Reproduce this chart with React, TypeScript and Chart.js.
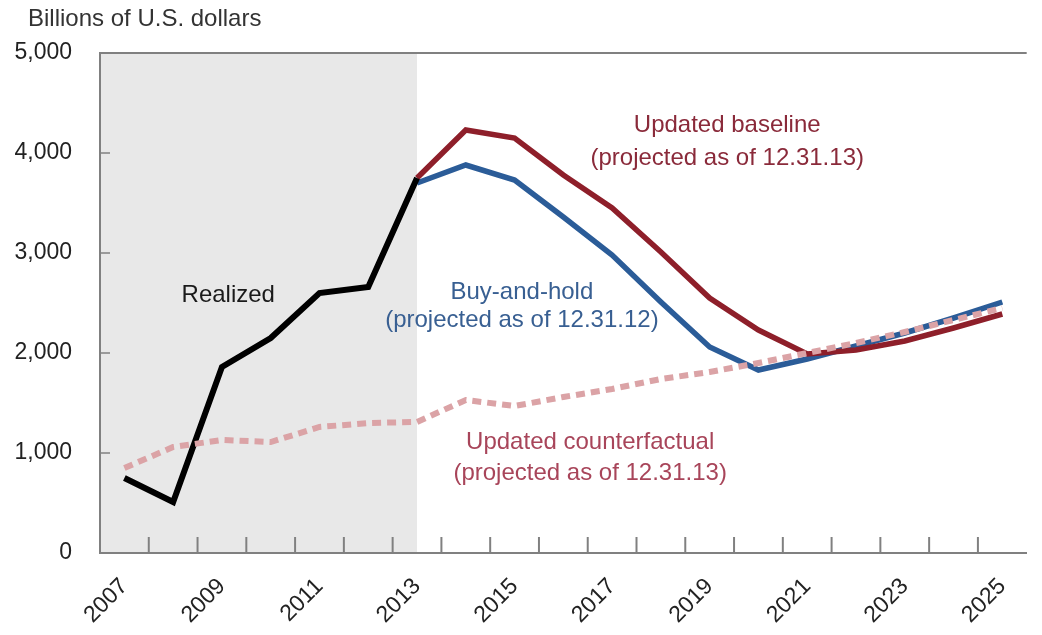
import React, { useEffect, useRef } from "react";
import { Chart, registerables } from "chart.js";

Chart.register(...registerables);

const years = [
  "2007", "2008", "2009", "2010", "2011", "2012", "2013", "2014", "2015", "2016",
  "2017", "2018", "2019", "2020", "2021", "2022", "2023", "2024", "2025",
];

const realized = [750, 510, 1860, 2150, 2600, 2660, 3750, null, null, null, null, null, null, null, null, null, null, null, null];

const updatedBaseline = [null, null, null, null, null, null, 3750, 4230, 4150, 3780, 3450, 3010, 2550, 2230, 1990, 2030, 2120, 2250, 2390];

const buyAndHold = [null, null, null, null, null, null, 3700, 3880, 3730, 3360, 2980, 2510, 2060, 1830, 1940, 2070, 2200, 2350, 2510];

const updatedCounterfactual = [850, 1060, 1130, 1110, 1260, 1300, 1310, 1530, 1470, 1560, 1640, 1740, 1810, 1900, 2000, 2100, 2210, 2330, 2450];

const yTicks = [0, 1000, 2000, 3000, 4000, 5000];

const shadedUntilIndex = 6; // realized period ends in 2013

const FONT = "'Liberation Sans', Arial, sans-serif";

type Note = { text: string; x: number; y: number; color: string };
const notes: Note[] = [
  { text: "Realized", x: 2.13, y: 2580, color: "#1a1a1a" },
  { text: "Updated baseline", x: 12.36, y: 4280, color: "#8a2a3a" },
  { text: "(projected as of 12.31.13)", x: 12.36, y: 3950, color: "#8a2a3a" },
  { text: "Buy-and-hold", x: 8.15, y: 2610, color: "#385f92" },
  { text: "(projected as of 12.31.12)", x: 8.15, y: 2330, color: "#385f92" },
  { text: "Updated counterfactual", x: 9.55, y: 1110, color: "#a8455a" },
  { text: "(projected as of 12.31.13)", x: 9.55, y: 800, color: "#a8455a" },
];

const framePlugin = {
  id: "frame",
  beforeDraw(chart: any) {
    const { ctx, chartArea, scales } = chart;
    const x = scales.x;
    ctx.save();
    ctx.fillStyle = "#e8e8e8";
    const right = x.getPixelForValue(shadedUntilIndex);
    ctx.fillRect(chartArea.left, chartArea.top, right - chartArea.left, chartArea.bottom - chartArea.top);
    ctx.restore();
  },
  afterDraw(chart: any) {
    const { ctx, chartArea, scales } = chart;
    const x = scales.x;
    const y = scales.y;
    ctx.save();
    ctx.strokeStyle = "#808080";
    ctx.lineWidth = 2;
    // top border
    ctx.beginPath();
    ctx.moveTo(chartArea.left, chartArea.top);
    ctx.lineTo(chartArea.right, chartArea.top);
    ctx.stroke();
    // inward x ticks at category boundaries
    for (let i = 1; i < years.length; i++) {
      const px = (x.getPixelForValue(i - 1) + x.getPixelForValue(i)) / 2;
      ctx.beginPath();
      ctx.moveTo(px, chartArea.bottom);
      ctx.lineTo(px, chartArea.bottom - 16);
      ctx.stroke();
    }
    // inward y ticks
    ctx.lineWidth = 1.5;
    for (const v of yTicks) {
      if (v === 0 || v === 5000) continue;
      const py = y.getPixelForValue(v);
      ctx.beginPath();
      ctx.moveTo(chartArea.left, py);
      ctx.lineTo(chartArea.left + 10, py);
      ctx.stroke();
    }
    // notes
    ctx.font = `24px ${FONT}`;
    ctx.textAlign = "center";
    ctx.textBaseline = "middle";
    for (const n of notes) {
      ctx.fillStyle = n.color;
      ctx.fillText(n.text, x.getPixelForValue(n.x), y.getPixelForValue(n.y));
    }
    // axis title
    ctx.fillStyle = "#333";
    ctx.textAlign = "left";
    ctx.fillText("Billions of U.S. dollars", 28, 19);
    ctx.restore();
  },
};

export default function App() {
  const ref = useRef<HTMLCanvasElement | null>(null);
  useEffect(() => {
    if (!ref.current) return;
    const chart = new Chart(ref.current, {
      type: "line",
      data: {
        labels: years,
        datasets: [
          {
            label: "Updated counterfactual",
            data: updatedCounterfactual,
            borderColor: "#dba3a6",
            borderWidth: 6,
            borderDash: [9, 6],
            pointRadius: 0,
            order: 0,
          },
          {
            label: "Realized",
            data: realized,
            borderColor: "#000000",
            borderWidth: 6,
            pointRadius: 0,
            order: 1,
          },
          {
            label: "Updated baseline",
            data: updatedBaseline,
            borderColor: "#8e1f2a",
            borderWidth: 5.5,
            pointRadius: 0,
            order: 2,
          },
          {
            label: "Buy-and-hold",
            data: buyAndHold,
            borderColor: "#2b5c98",
            borderWidth: 5.5,
            pointRadius: 0,
            order: 3,
          },
        ],
      },
      options: {
        responsive: false,
        animation: false,
        spanGaps: false,
        layout: { padding: { top: 53, right: 7, left: 0, bottom: 0 } },
        plugins: { legend: { display: false }, tooltip: { enabled: false }, title: { display: false } },
        elements: { line: { tension: 0, borderJoinStyle: "miter", borderCapStyle: "butt" } },
        scales: {
          x: {
            type: "category",
            offset: true,
            grid: { display: false, drawTicks: false },
            border: { display: true, color: "#808080", width: 2 },
            afterFit(scale: any) {
              scale.height = 82;
            },
            ticks: {
              autoSkip: false,
              maxRotation: 45,
              minRotation: 45,
              padding: 20,
              color: "#222",
              font: { family: FONT, size: 23 },
              callback: (_v: any, i: number) => (i % 2 === 0 ? years[i] : ""),
            },
          },
          y: {
            min: 0,
            max: 5000,
            grid: { display: false, drawTicks: false },
            border: { display: true, color: "#808080", width: 2 },
            afterFit(scale: any) {
              scale.width = 100;
            },
            afterBuildTicks(scale: any) {
              scale.ticks = yTicks.map((v) => ({ value: v }));
            },
            ticks: {
              padding: 28,
              color: "#222",
              font: { family: FONT, size: 23 },
              callback: (v: any) => Number(v).toLocaleString("en-US"),
            },
          },
        },
      },
      plugins: [framePlugin],
    } as any);
    return () => chart.destroy();
  }, []);
  return (
    <div style={{ position: "fixed", left: 0, top: 0, width: 1042, height: 635, background: "#fff" }}>
      <canvas ref={ref} width={1042} height={635} style={{ width: 1042, height: 635, display: "block" }} />
    </div>
  );
}
